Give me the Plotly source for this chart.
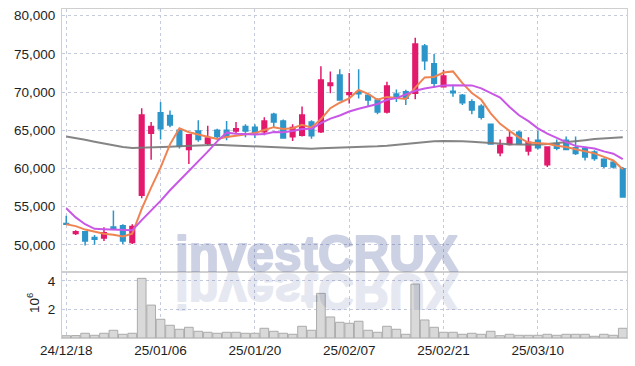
import base64
import plotly.graph_objects as go
from plotly.subplots import make_subplots

dates = ["24/12/18", "24/12/19", "24/12/20", "24/12/23", "24/12/24", "24/12/26", "24/12/27", "24/12/30",
         "25/01/02", "25/01/03", "25/01/06", "25/01/07", "25/01/08", "25/01/09", "25/01/10", "25/01/13",
         "25/01/14", "25/01/15", "25/01/16", "25/01/17", "25/01/20", "25/01/21", "25/01/22", "25/01/23",
         "25/01/24", "25/01/31", "25/02/03", "25/02/04", "25/02/05", "25/02/06", "25/02/07", "25/02/10",
         "25/02/11", "25/02/12", "25/02/13", "25/02/14", "25/02/17", "25/02/18", "25/02/19", "25/02/20",
         "25/02/21", "25/02/24", "25/02/25", "25/02/26", "25/02/27", "25/02/28", "25/03/04", "25/03/05",
         "25/03/06", "25/03/07", "25/03/10", "25/03/11", "25/03/12", "25/03/13", "25/03/14", "25/03/17",
         "25/03/18", "25/03/19", "25/03/20", "25/03/21"]

opens = [52800, 51500, 51700, 50950, 50900, 52350, 52500, 50300, 56500, 64600,
         67300, 66950, 65000, 62500, 64900, 63300, 65000, 65000, 64900, 65500,
         65400, 64800, 67100, 66200, 64150, 64350, 66100, 64800, 70850, 72250,
         69700, 70050, 69600, 68950, 67400, 69750, 70050, 69850, 76050, 73700,
         70700, 70100, 69600, 68750, 68150, 65800, 62050, 63150, 64750, 62300,
         63700, 60500, 63250, 63700, 62700, 62600, 62150, 61200, 60800, 59950]
highs = [53800, 51900, 51800, 51300, 52300, 54500, 52700, 52700, 67900, 66100,
         68700, 67600, 65200, 64500, 66300, 65600, 65200, 66200, 66100, 65800,
         65800, 66700, 67300, 66400, 65800, 68100, 66300, 73400, 72700, 73000,
         72500, 73000, 69800, 69200, 71350, 70350, 70300, 77100, 76300, 75000,
         72900, 70900, 69750, 69050, 68400, 65900, 63800, 64900, 64950, 64100,
         64950, 62900, 63800, 64200, 64200, 62850, 62400, 61350, 61000, 60200]
lows = [52600, 51300, 49900, 50000, 50500, 52000, 50100, 50100, 56100, 61150,
        63800, 65400, 62600, 60600, 63500, 63000, 63900, 63700, 64500, 64100,
        64000, 64350, 65300, 63900, 63600, 64200, 63900, 64650, 69850, 68900,
        68500, 69150, 68100, 67100, 67200, 68700, 68300, 69050, 72900, 70600,
        70600, 69400, 68300, 67100, 66400, 63100, 61600, 63000, 63150, 61700,
        62500, 60200, 62400, 62400, 61750, 61050, 61000, 60050, 60000, 56200]
closes = [52700, 51700, 50500, 50750, 51600, 52100, 50500, 52400, 67000, 65500,
          65200, 65700, 62900, 64400, 63800, 64000, 64200, 64200, 65200, 64900,
          64650, 66200, 66100, 64000, 65350, 67000, 64300, 71600, 71200, 68950,
          69900, 69800, 68950, 67400, 70800, 69200, 69200, 76300, 74100, 71150,
          72100, 69900, 68600, 67650, 66700, 63200, 63050, 64050, 63250, 63450,
          62700, 62800, 62650, 62500, 61950, 61500, 61300, 60300, 60200, 56250]
volumes = [160000, 170000, 330000, 190000, 330000, 540000, 260000, 330000, 4170000, 2300000,
           1310000, 890000, 610000, 750000, 470000, 400000, 330000, 400000, 400000, 330000,
           330000, 680000, 470000, 330000, 260000, 820000, 540000, 3120000, 1470000, 1100000,
           1030000, 1170000, 540000, 400000, 820000, 610000, 260000, 3770000, 1260000, 750000,
           400000, 400000, 260000, 330000, 260000, 470000, 160000, 260000, 190000, 190000,
           190000, 260000, 190000, 260000, 260000, 260000, 120000, 260000, 190000, 680000]
ma_short = [52700, 52450, 52000, 51700, 51450, 51330, 51090, 51470, 54720, 57500,
            60120, 63160, 65260, 64740, 64400, 64160, 63860, 64120, 64280, 64500,
            64630, 65030, 65410, 65170, 65260, 65730, 65350, 66450, 67890, 68610,
            69190, 70290, 69760, 69000, 69370, 69230, 69110, 70580, 71920, 71990,
            72570, 72710, 71170, 69880, 68990, 67210, 65840, 64930, 64050, 63400,
            63300, 63250, 62970, 62820, 62520, 62280, 61980, 61510, 61050, 59910]
ma_mid = [54800, 53600, 52700, 52100, 52050, 52000, 51950, 51900, 53240, 54500,
          55750, 57150, 58400, 59750, 60980, 62200, 63550, 64690, 64550, 64500,
          64450, 64500, 64780, 64750, 64900, 65180, 65200, 65930, 66530, 66940,
          67460, 67820, 68110, 68450, 68990, 69210, 69700, 70170, 70460, 70680,
          70880, 70900, 70880, 70880, 70490, 69890, 69280, 68050, 66970, 66200,
          65260, 64550, 63950, 63440, 62960, 62790, 62620, 62240, 61940, 61220]
ma_long = [64200, 64000, 63750, 63500, 63250, 63000, 62800, 62680, 62700, 62750,
           62800, 62850, 62900, 62950, 63000, 63050, 63100, 63050, 63000, 62950,
           62900, 62850, 62800, 62700, 62650, 62600, 62590, 62650, 62680, 62700,
           62720, 62780, 62850, 62900, 62980, 63100, 63250, 63400, 63500, 63550,
           63600, 63600, 63580, 63500, 63400, 63300, 63200, 63160, 63130, 63120,
           63120, 63200, 63300, 63420, 63550, 63700, 63850, 63950, 64030, 64100]

price_ticks = [50000, 55000, 60000, 65000, 70000, 75000, 80000]
vol_ticks = [2000000, 4000000]
vol_tick_labels = ["2", "4"]
x_tick_index = [0, 10, 20, 30, 40, 50]
x_tick_vals = [dates[i] for i in x_tick_index]
x_tick_text = [dates[i] for i in x_tick_index]

RED = "#E3196C"
BLUE = "#2C95C9"
GRID = "#C5CADC"
FRAME = "#CFCFCF"
TICKFONT = dict(family="Liberation Sans, Arial, sans-serif", size=13.5, color="#1E1E1E")

fig = make_subplots(rows=2, cols=1, shared_xaxes=True, vertical_spacing=0,
                    row_heights=[0.8, 0.2])

fig.add_trace(go.Candlestick(
    x=dates, open=opens, high=highs, low=lows, close=closes,
    increasing=dict(line=dict(color=RED, width=1.5), fillcolor=RED),
    decreasing=dict(line=dict(color=BLUE, width=1.5), fillcolor=BLUE),
    whiskerwidth=0, showlegend=False, hoverinfo="skip"), row=1, col=1)

fig.add_trace(go.Scatter(x=dates, y=ma_long, mode="lines",
                         line=dict(color="rgba(120,120,120,0.9)", width=2),
                         showlegend=False, hoverinfo="skip"), row=1, col=1)
fig.add_trace(go.Scatter(x=dates, y=ma_short, mode="lines",
                         line=dict(color="#EF8352", width=2),
                         showlegend=False, hoverinfo="skip"), row=1, col=1)
fig.add_trace(go.Scatter(x=dates, y=ma_mid, mode="lines",
                         line=dict(color="#C957E6", width=2),
                         showlegend=False, hoverinfo="skip"), row=1, col=1)

fig.add_trace(go.Bar(x=dates, y=volumes,
                     marker=dict(color="#D9D9D9", line=dict(color="#ABABAB", width=1)),
                     showlegend=False, hoverinfo="skip"), row=2, col=1)

axis_common = dict(showline=True, linecolor=FRAME, linewidth=1, mirror=True,
                   showgrid=True, gridcolor=GRID, griddash="dot", gridwidth=1,
                   zeroline=False, tickfont=TICKFONT, automargin=False)

fig.update_xaxes(type="category", range=[-0.45, 59.45], tickmode="array",
                 tickvals=x_tick_vals, ticktext=x_tick_text, rangeslider_visible=False,
                 ticks="", **axis_common)
fig.update_xaxes(showticklabels=False, row=1, col=1)
fig.update_xaxes(showticklabels=True, row=2, col=1)

fig.update_yaxes(range=[46420, 80880], tickmode="array", tickvals=price_ticks,
                 tickformat=",", ticks="outside", ticklen=3, tickcolor="rgba(0,0,0,0)",
                 row=1, col=1, **axis_common)
fig.update_yaxes(range=[0, 4600000], tickmode="array", tickvals=vol_ticks,
                 ticktext=vol_tick_labels, ticks="outside", ticklen=3,
                 tickcolor="rgba(0,0,0,0)", row=2, col=1, **axis_common)

wm_attrs = ('font-family="Liberation Sans, Arial, sans-serif" font-weight="bold" font-size="50" '
            'textLength="283" lengthAdjust="spacingAndGlyphs" fill="rgb(40,60,140)" '
            'stroke="rgb(40,60,140)" stroke-width="2" stroke-linejoin="round"')
svg = ('<svg xmlns="http://www.w3.org/2000/svg" width="300" height="90" viewBox="0 0 300 90">'
       f'<g opacity="0.23"><text x="5" y="45" {wm_attrs}>investCRUX</text></g>'
       '<g opacity="0.11" transform="translate(0,93) scale(1,-1)">'
       f'<text x="5" y="45" {wm_attrs}>investCRUX</text></g></svg>')
src = "data:image/svg+xml;base64," + base64.b64encode(svg.encode()).decode()

W, H = 635, 366
ML, MR, MT, MB = 62, 8, 9, 28
PW, PH = W - ML - MR, H - MT - MB
fig.add_layout_image(dict(source=src, xref="paper", yref="paper",
                          x=(170 - ML) / PW, y=(H - MB - 226) / PH,
                          sizex=300 / PW, sizey=90 / PH,
                          xanchor="left", yanchor="top", sizing="stretch", layer="above"))

fig.add_annotation(text="10<sup>6</sup>", xref="paper", yref="paper",
                   x=(33 - ML) / PW, y=(H - MB - 303) / PH, textangle=-90,
                   showarrow=False, font=TICKFONT, xanchor="center", yanchor="middle")

fig.update_layout(width=W, height=H, margin=dict(l=ML, r=MR, t=MT, b=MB, autoexpand=False),
                  paper_bgcolor="white", plot_bgcolor="white", bargap=0.08,
                  showlegend=False)

fig.write_html("out.html", config={"displayModeBar": False},
               post_script="document.body.style.margin='0';")
